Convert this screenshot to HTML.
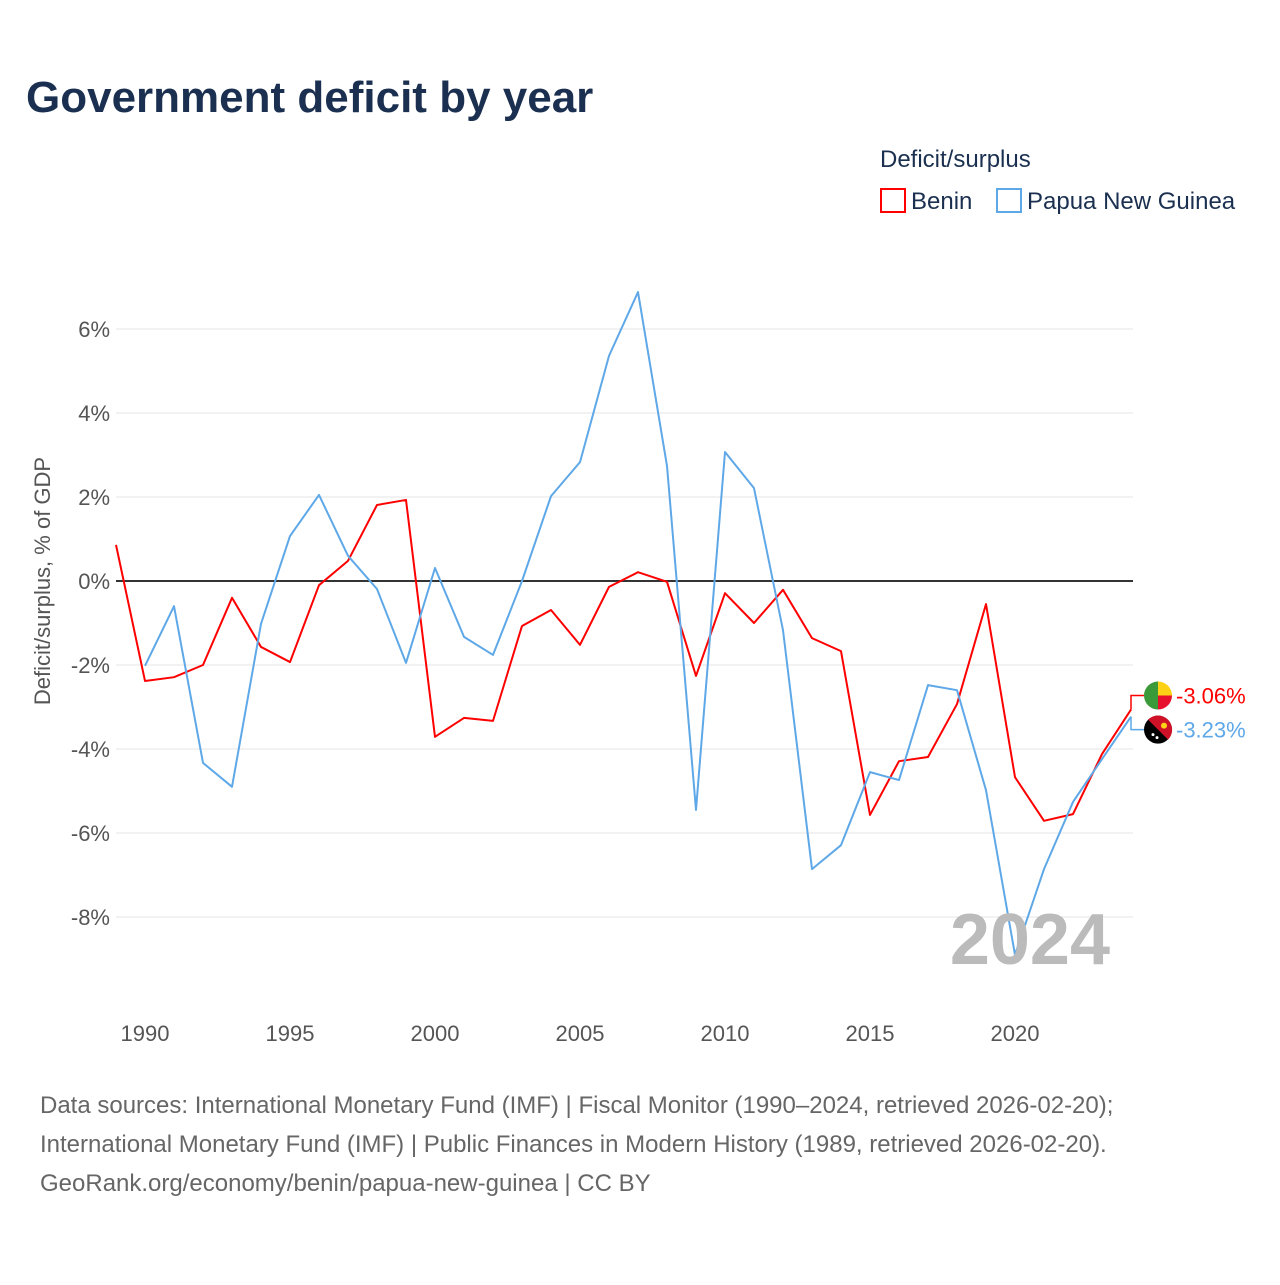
<!DOCTYPE html>
<html><head><meta charset="utf-8"><style>
body{margin:0;background:#fff;font-family:"Liberation Sans",sans-serif;}
svg text{font-family:"Liberation Sans",sans-serif;}
</style></head><body>
<svg id="chart" width="1280" height="1280" viewBox="0 0 1280 1280">
<text x="26" y="112" font-size="44" font-weight="bold" fill="#1b3050">Government deficit by year</text>
<text x="880" y="167" font-size="24" fill="#1b3050">Deficit/surplus</text>
<g><rect x="881" y="189" width="24" height="23" fill="none" stroke="#ff0000" stroke-width="2"/><text x="911" y="209" font-size="24" fill="#1b3050">Benin</text></g>
<g><rect x="997" y="189" width="24" height="23" fill="none" stroke="#5ea8e8" stroke-width="2"/><text x="1027" y="209" font-size="24" fill="#1b3050">Papua New Guinea</text></g>
<text transform="translate(50,581) rotate(-90)" text-anchor="middle" font-size="22" fill="#555">Deficit/surplus, % of GDP</text>
<g id="grid"></g><g id="lines"></g>
<text x="1110" y="964" text-anchor="end" font-size="72" font-weight="bold" fill="#bbb">2024</text>
<text x="40" y="1113" font-size="24" fill="#666">Data sources: International Monetary Fund (IMF) | Fiscal Monitor (1990–2024, retrieved 2026-02-20);</text>
<text x="40" y="1152" font-size="24" fill="#666">International Monetary Fund (IMF) | Public Finances in Modern History (1989, retrieved 2026-02-20).</text>
<text x="40" y="1191" font-size="24" fill="#666">GeoRank.org/economy/benin/papua-new-guinea | CC BY</text>
</svg>
<script>
const benin=[0.86,-2.38,-2.29,-2.0,-0.4,-1.57,-1.93,-0.1,0.48,1.81,1.93,-3.71,-3.26,-3.33,-1.07,-0.69,-1.52,-0.14,0.21,-0.02,-2.26,-0.29,-1.0,-0.21,-1.36,-1.67,-5.57,-4.29,-4.19,-2.93,-0.55,-4.67,-5.71,-5.55,-4.12,-3.06];
const beninStart=1989;
const png=[-2.02,-0.6,-4.33,-4.9,-1.02,1.07,2.05,0.6,-0.19,-1.95,0.31,-1.33,-1.76,0,2.02,2.83,5.36,6.88,2.74,-5.45,3.07,2.21,-1.17,-6.86,-6.29,-4.55,-4.74,-2.48,-2.6,-4.98,-8.9,-6.86,-5.26,-4.24,-3.23];
const pngStart=1990;
const yTicks=[6,4,2,0,-2,-4,-6,-8];
const xTicks=[1990,1995,2000,2005,2010,2015,2020];
const X=y=>116+(y-1989)*29;
const Y=v=>581-v*42;
const NS="http://www.w3.org/2000/svg";
const grid=document.getElementById('grid'),lines=document.getElementById('lines');
function mk(tag,attrs,parent){const e=document.createElementNS(NS,tag);for(const k in attrs)e.setAttribute(k,attrs[k]);parent.appendChild(e);return e;}
yTicks.forEach(t=>{
 const l=mk('line',{x1:116,x2:1133,y1:Y(t),y2:Y(t),stroke:t===0?'#333':'#e6e6e6','stroke-width':t===0?2:1},grid);
 
 
 const tx=mk('text',{x:110,y:Y(t)+8,'text-anchor':'end','font-size':22,fill:'#555'},grid);
 tx.textContent=t+'%';
 
 
});
xTicks.forEach(t=>{
 const tx=mk('text',{x:X(t),y:1041,'text-anchor':'middle','font-size':22,fill:'#555'},grid);
 tx.textContent=t;
 
 
});
function series(vals,start,color,name){
 const d=vals.map((v,i)=>(i?'L':'M')+X(start+i)+','+Y(v)).join(' ');
 const p=mk('path',{d:d,fill:'none',stroke:color,'stroke-width':2,'stroke-linejoin':'round'},lines);
 
 
}
series(benin,beninStart,'#ff0000','benin');
series(png,pngStart,'#5ea8e8','png');
const bl=benin[benin.length-1],pl=png[png.length-1];
const bx=X(2024);
const by=Y(bl)-14, py=Y(pl)+13;
mk('path',{d:`M${bx},${Y(bl)} L${bx},${by} L1146,${by}`,fill:'none',stroke:'#ff0000','stroke-width':1.5},lines);
mk('path',{d:`M${bx},${Y(pl)} L${bx},${py} L1146,${py}`,fill:'none',stroke:'#5ea8e8','stroke-width':1.5},lines);
const f1=mk('g',{},lines);


mk('path',{d:`M1158,${by-14} A14,14 0 0 0 1158,${by+14} Z`,fill:'#3a9a3a'},f1);
mk('path',{d:`M1158,${by-14} A14,14 0 0 1 1172,${by} L1158,${by} Z`,fill:'#fcd116'},f1);
mk('path',{d:`M1158,${by} L1172,${by} A14,14 0 0 1 1158,${by+14} Z`,fill:'#e8112d'},f1);
const f2=mk('g',{},lines);


mk('circle',{cx:1158,cy:py,r:14,fill:'#000'},f2);
mk('path',{d:`M1148,${py-10} A14,14 0 0 1 1168,${py+10} Z`,fill:'#ce1126'},f2);
mk('circle',{cx:1164,cy:py-4,r:3,fill:'#fcd116'},f2);
mk('circle',{cx:1153,cy:py+5,r:1.5,fill:'#fff'},f2);
mk('circle',{cx:1157,cy:py+8,r:1.5,fill:'#fff'},f2);
const t1=mk('text',{x:1176,y:by+8,'font-size':22,fill:'#ff0000'},lines);
t1.textContent=bl.toFixed(2)+'%';


const t2=mk('text',{x:1176,y:py+8,'font-size':22,fill:'#5ea8e8'},lines);
t2.textContent=pl.toFixed(2)+'%';


</script>
</body></html>
